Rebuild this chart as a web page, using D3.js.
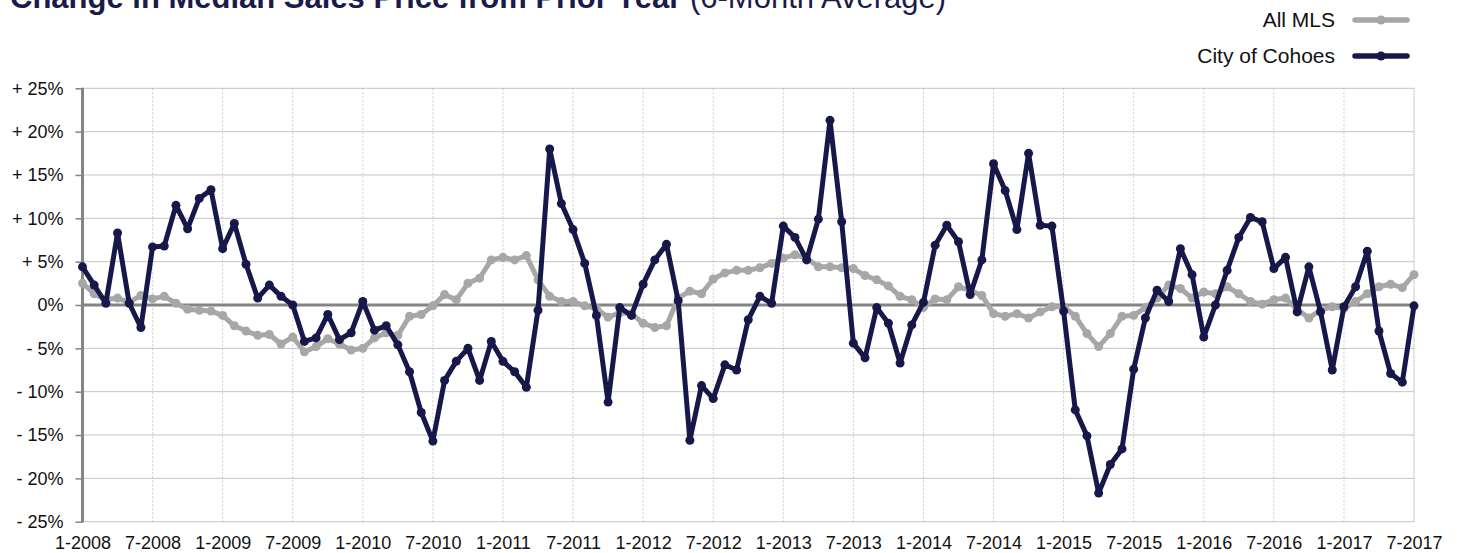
<!DOCTYPE html>
<html>
<head>
<meta charset="utf-8">
<script src="https://cdn.jsdelivr.net/npm/d3@7/dist/d3.min.js"></script>
<style>
  html, body { margin: 0; padding: 0; background: #fff; }
  svg { display: block; font-family: "Liberation Sans", Arial, Helvetica, sans-serif; }
</style>
</head>
<body>
<svg id="chart" width="1457" height="553"></svg>
<script>
// ---- data ----
const tickLabels = ["1-2008","7-2008","1-2009","7-2009","1-2010","7-2010","1-2011","7-2011",
  "1-2012","7-2012","1-2013","7-2013","1-2014","7-2014","1-2015","7-2015","1-2016","7-2016",
  "1-2017","7-2017"];
const years = [2008,2009,2010,2011,2012,2013,2014,2015,2016,2017];
const categories = [];
years.forEach(y => { for (let m = 1; m <= 12; m++) { if (y === 2017 && m > 7) break; categories.push(m + "-" + y); } });

const allMLS = [2.5,1.3,0.6,0.8,0.3,1.1,0.7,1.0,0.2,-0.5,-0.6,-0.7,
  -1.2,-2.4,-3.0,-3.5,-3.4,-4.5,-3.7,-5.4,-4.8,-3.9,-4.5,-5.2,
  -5.0,-3.8,-3.2,-3.5,-1.3,-1.1,-0.1,1.2,0.6,2.5,3.1,5.2,
  5.5,5.2,5.7,2.9,1.0,0.4,0.4,-0.1,-0.4,-1.4,-0.9,-1.0,
  -2.1,-2.6,-2.4,0.8,1.6,1.3,3.0,3.7,4.0,4.0,4.3,4.8,
  5.4,5.8,5.4,4.4,4.4,4.3,4.2,3.4,2.9,2.2,1.0,0.6,
  -0.3,0.7,0.6,2.1,1.7,1.1,-1.0,-1.3,-1.0,-1.5,-0.8,-0.2,
  -0.2,-1.3,-3.3,-4.8,-3.3,-1.3,-1.2,-0.3,0.8,2.3,1.9,0.8,
  1.5,1.3,2.1,1.3,0.4,0.1,0.6,0.8,-0.5,-1.5,-0.6,-0.2,
  -0.4,0.4,1.3,2.1,2.4,2.0,3.5];

const cohoes = [4.4,2.3,0.2,8.3,0.2,-2.6,6.7,6.8,11.5,8.8,12.3,13.3,
  6.5,9.4,4.7,0.8,2.3,1.0,0.0,-4.2,-3.8,-1.1,-4.0,-3.2,
  0.4,-2.9,-2.4,-4.6,-7.7,-12.4,-15.7,-8.7,-6.5,-5.0,-8.7,-4.2,
  -6.5,-7.7,-9.5,-0.6,18.0,11.7,8.7,4.8,-1.2,-11.2,-0.3,-1.2,
  2.4,5.2,7.0,0.5,-15.6,-9.3,-10.8,-6.9,-7.5,-1.7,1.0,0.2,
  9.1,7.8,5.2,9.9,21.3,9.6,-4.4,-6.1,-0.3,-2.1,-6.7,-2.3,
  0.3,6.9,9.2,7.3,1.2,5.2,16.3,13.2,8.7,17.5,9.2,9.1,
  -0.7,-12.1,-15.1,-21.7,-18.4,-16.6,-7.4,-1.5,1.7,0.4,6.5,3.5,
  -3.7,0.0,4.0,7.8,10.1,9.6,4.2,5.5,-0.8,4.4,-0.8,-7.5,
  -0.2,2.1,6.2,-3.0,-7.9,-8.9,-0.1];

const yTicks = [-25,-20,-15,-10,-5,0,5,10,15,20,25];
const seriesNames = ["All MLS", "City of Cohoes"];

// ---- styles ----
const NAVY = "#17184a";
const GREY = "#a7a7a7";
const AXIS = "#848484";

const svg = d3.select("#chart");
const x = d3.scaleLinear().domain([0, categories.length - 1]).range([82.5, 1414]);
const y = d3.scaleLinear().domain([-25, 25]).range([521.7, 88.3]);

// title (partly cut off at the top, as in the reference)
const title = svg.append("text").attr("x", 10).attr("y", 8)
  .attr("font-size", 31).attr("fill", "#1b1b4b");
title.append("tspan").attr("font-weight", "bold").text("Change in Median Sales Price from Prior Year");
title.append("tspan").text(" (6-Month Average)");

// vertical gridlines (every 6 months)
const tickIdx = tickLabels.map((_, i) => i * 6);
svg.append("g").selectAll("line").data(tickIdx.slice(1, -1)).join("line")
  .attr("x1", d => x(d)).attr("x2", d => x(d))
  .attr("y1", y(25)).attr("y2", y(-25))
  .attr("stroke", "#cccccc").attr("stroke-width", 1).attr("stroke-dasharray", "2,2");

// right border
svg.append("line").attr("x1", x(categories.length - 1)).attr("x2", x(categories.length - 1))
  .attr("y1", y(25)).attr("y2", y(-25))
  .attr("stroke", "#9a9a9a").attr("stroke-width", 1).attr("stroke-dasharray", "1,1");

// horizontal gridlines
svg.append("g").selectAll("line").data(yTicks.filter(d => d !== 0)).join("line")
  .attr("x1", x(0)).attr("x2", x(categories.length - 1))
  .attr("y1", d => y(d)).attr("y2", d => y(d))
  .attr("stroke", "#888888").attr("stroke-width", 1).attr("stroke-dasharray", "1,1");

// zero line
svg.append("line").attr("x1", x(0)).attr("x2", x(categories.length - 1))
  .attr("y1", y(0)).attr("y2", y(0))
  .attr("stroke", AXIS).attr("stroke-width", 3);

// y axis
const fmt = v => v > 0 ? "+ " + v + "%" : (v < 0 ? "- " + Math.abs(v) + "%" : "0%");
const yAxis = svg.append("g").attr("transform", `translate(${x(0)},0)`)
  .call(d3.axisLeft(y).tickValues(yTicks).tickFormat(fmt).tickSize(7).tickPadding(12));
yAxis.select(".domain").attr("stroke", AXIS).attr("stroke-width", 3)
  .attr("d", `M0,${y(25)-0.5}V${y(-25)+0.5}`);
yAxis.selectAll(".tick line").attr("stroke", AXIS).attr("stroke-width", 1.5);
yAxis.selectAll(".tick text").attr("font-size", 18).attr("fill", "#111")
  .attr("font-family", "Liberation Sans, Arial, sans-serif");

// x axis labels
const xAxis = svg.append("g").attr("transform", `translate(0,${y(-25)})`)
  .call(d3.axisBottom(x).tickValues(tickIdx).tickFormat((d, i) => tickLabels[i]).tickSize(0).tickPadding(15));
xAxis.select(".domain").remove();
xAxis.selectAll(".tick text").attr("font-size", 18).attr("fill", "#111")
  .attr("font-family", "Liberation Sans, Arial, sans-serif");

// lines
const line = d3.line().x((d, i) => x(i)).y(d => y(d));
function drawSeries(data, color) {
  svg.append("path").datum(data).attr("d", line)
    .attr("fill", "none").attr("stroke", color).attr("stroke-width", 5)
    .attr("stroke-linejoin", "round").attr("stroke-linecap", "round");
  svg.append("g").selectAll("circle").data(data).join("circle")
    .attr("cx", (d, i) => x(i)).attr("cy", d => y(d)).attr("r", 4.5).attr("fill", color);
}
drawSeries(allMLS, GREY);
drawSeries(cohoes, NAVY);

// legend
const legend = [{name: seriesNames[0], color: GREY, y: 20}, {name: seriesNames[1], color: NAVY, y: 56}];
const lg = svg.append("g");
legend.forEach(l => {
  lg.append("text").attr("x", 1335).attr("y", l.y).attr("dy", "0.35em")
    .attr("text-anchor", "end").attr("font-size", 21).attr("fill", "#111").text(l.name);
  lg.append("line").attr("x1", 1355).attr("x2", 1407).attr("y1", l.y).attr("y2", l.y)
    .attr("stroke", l.color).attr("stroke-width", 5.5).attr("stroke-linecap", "round");
  lg.append("circle").attr("cx", 1381).attr("cy", l.y).attr("r", 4.5).attr("fill", l.color);
});
</script>
</body>
</html>
